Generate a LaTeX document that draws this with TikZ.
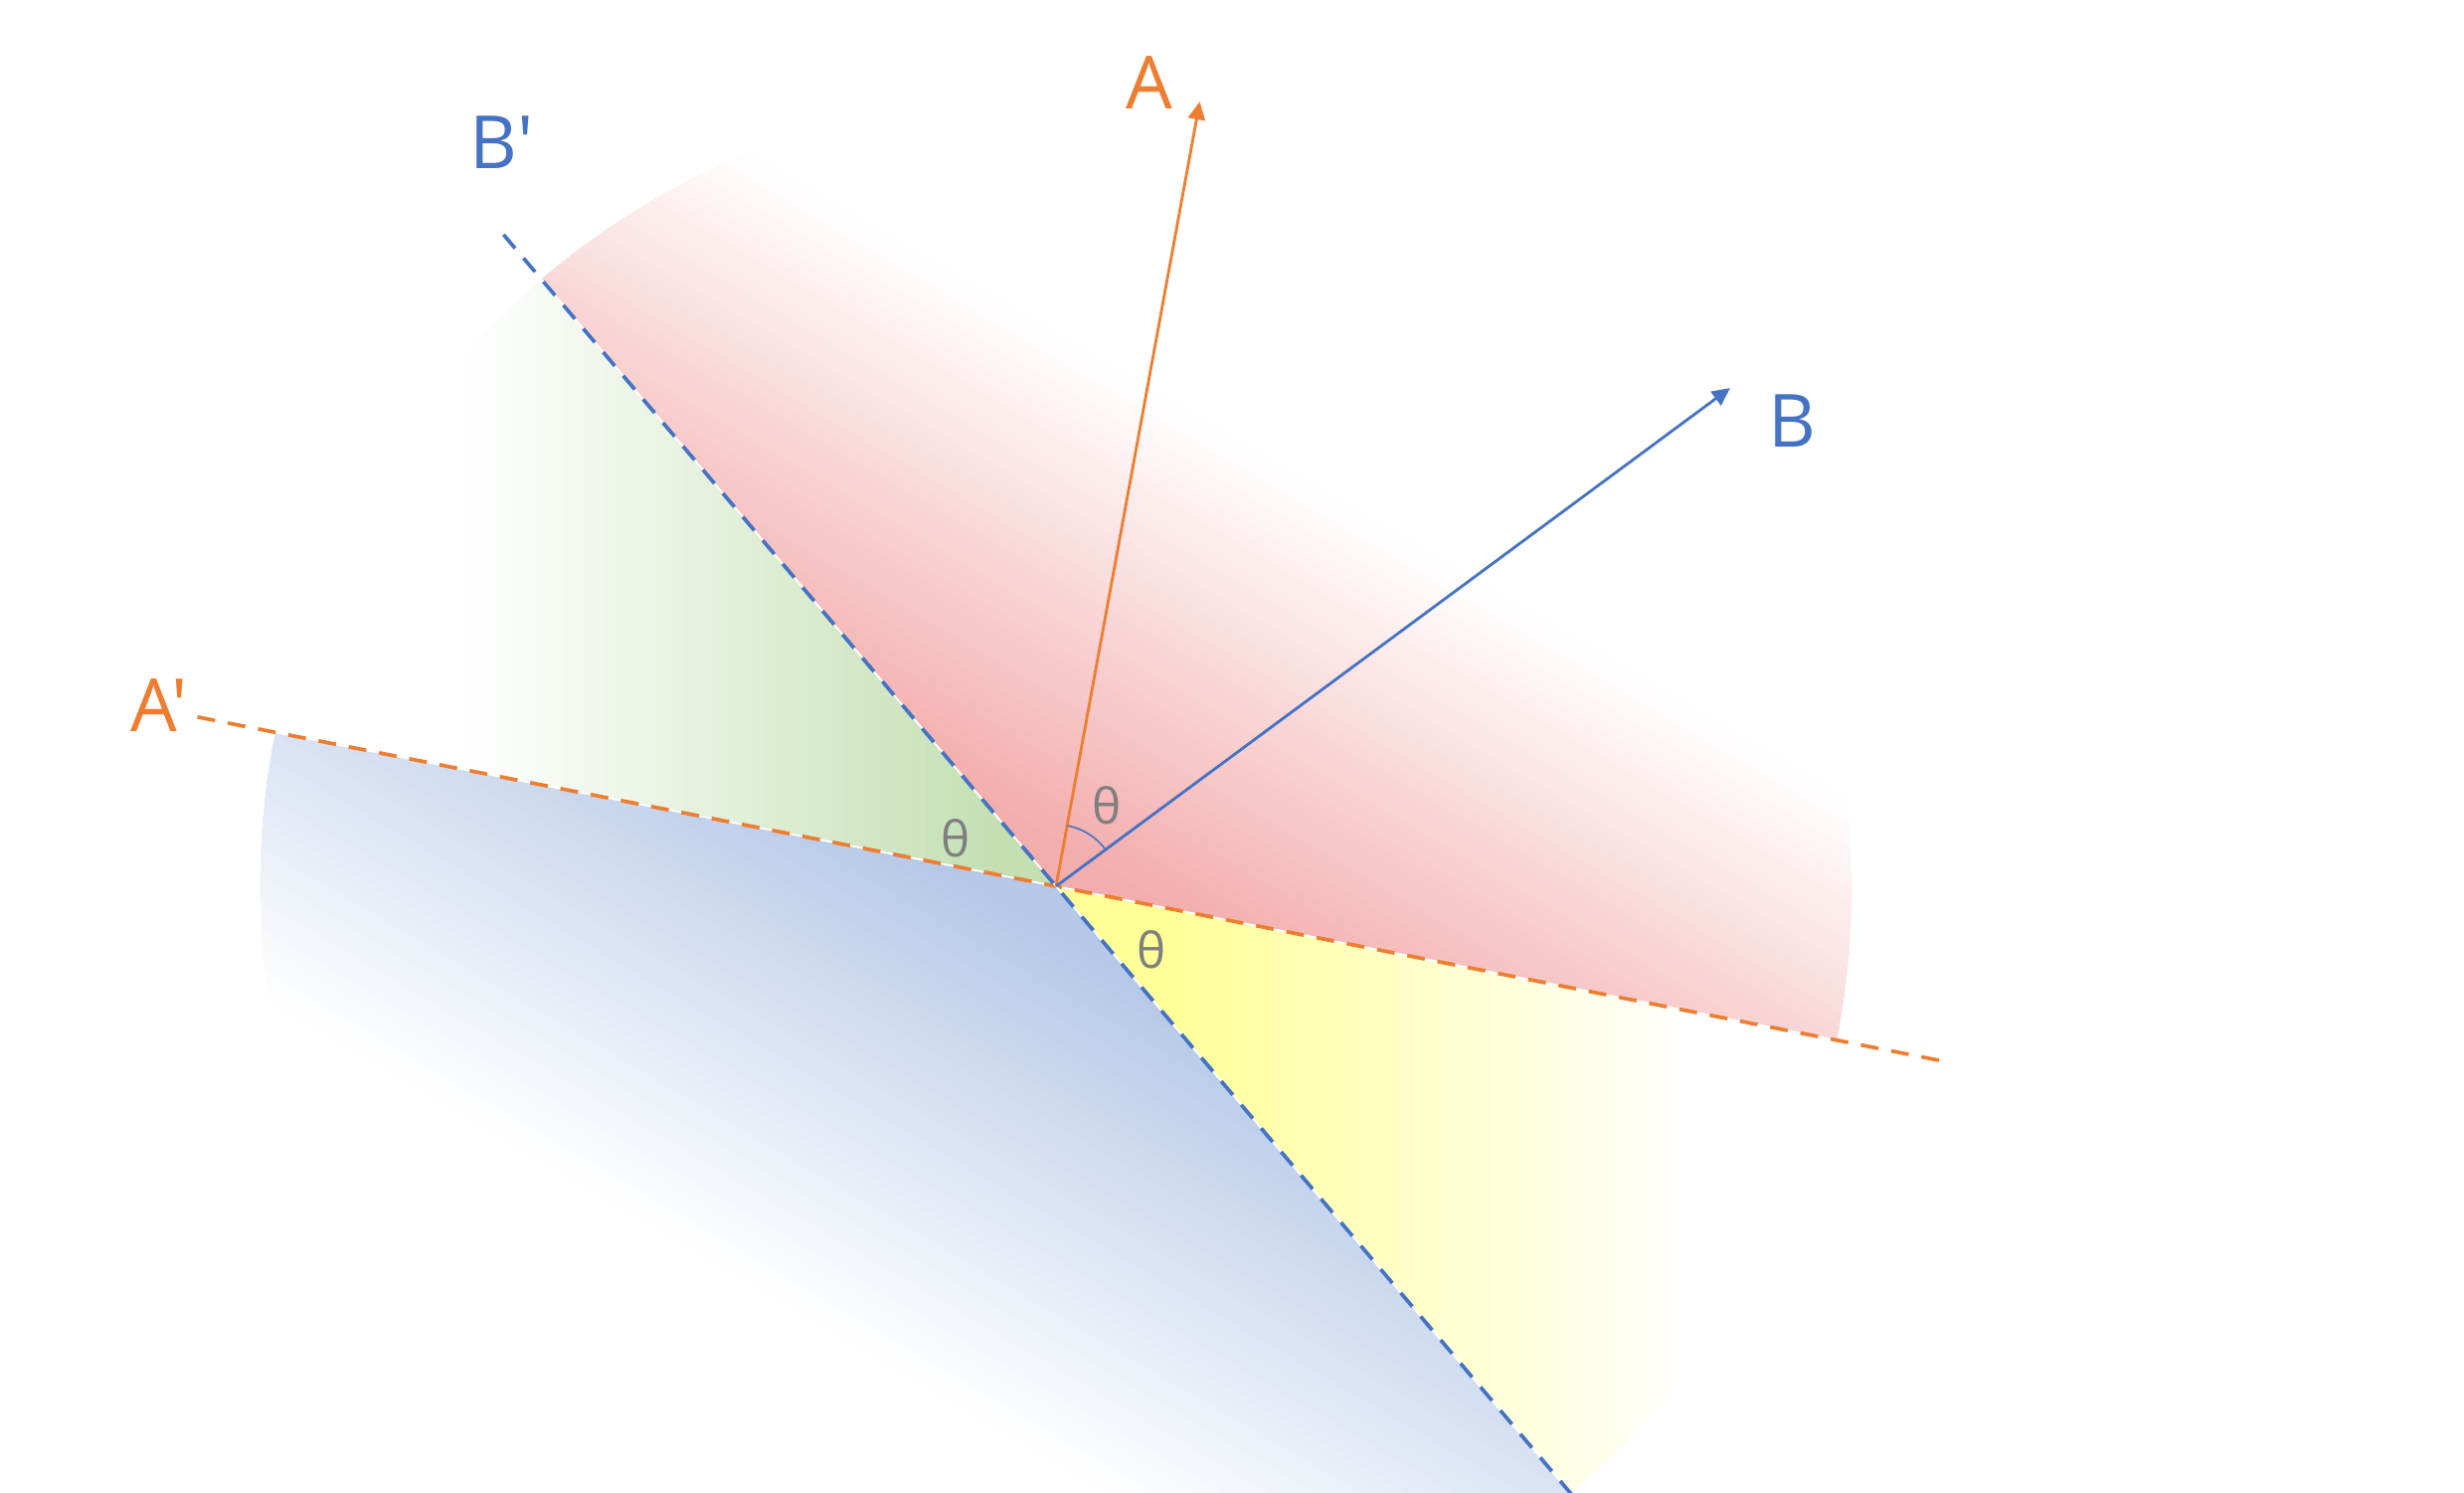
\documentclass[tikz,border=0pt]{standalone}
\usepackage{fontspec}
\setmainfont{Open Sans}
\newfontfamily\labelfont{Open Sans}
\usepackage{xcolor}
\usepackage{tikz}
\usetikzlibrary{arrows.meta}
\definecolor{redfill}{RGB}{243,172,172}
\definecolor{greenfill}{RGB}{195,223,177}
\definecolor{bluefill}{RGB}{180,199,231}
\definecolor{yellowfill}{RGB}{255,255,150}
\definecolor{orangeline}{RGB}{237,125,49}
\definecolor{blueline}{RGB}{68,114,196}
\definecolor{thetagray}{RGB}{127,127,127}
% sector from #1 to #2 in colour #3, fading to white along direction #4,
% full colour up to #5, white from #6 on
\newcommand{\fadesector}[6]{%
  \begin{scope}
    \clip (O) -- (#1:8) arc[start angle=#1, end angle=#2, radius=8] -- cycle;
    \foreach \fK in {40,39,...,1}{%
      \pgfmathsetmacro{\fTint}{100*(1-(\fK-0.5)/40)}%
      \fill[#3!\fTint!white, rotate=#4] (-1,-9) rectangle ({#5+(#6-#5)*\fK/40},9);%
    }%
  \end{scope}
}

\begin{document}
\begin{tikzpicture}[
    vec/.style={line width=0.8pt, -{Triangle[length=0.18cm,width=0.17cm]}},
    axis/.style={line width=1.05pt, dash pattern=on 0.18cm off 0.13cm,
      preaction={draw=white, solid, line width=0.5pt}},
    letter/.style={font=\labelfont\fontsize{21}{25}\selectfont, inner sep=0pt},
    thetalabel/.style={font=\labelfont\fontsize{14}{16}\selectfont, text=thetagray, inner sep=0pt}]
  \useasboundingbox (-10.62,-6.09) rectangle (14.16,8.91);
  \coordinate (O) at (0,0);
  % shaded sectors
  \fadesector{-11.15}{130.3}{redfill}{59.6}{0.3}{4.8}
  \fadesector{130.3}{168.85}{greenfill}{180}{0.5}{5.9}
  \fadesector{168.85}{310.3}{bluefill}{239.6}{0.3}{5.0}
  \fadesector{-49.7}{-11.15}{yellowfill}{0}{1.0}{6.4}
  % ends of the lines
  \coordinate (Atip) at (79.61:8.02);
  \coordinate (Btip) at (36.46:8.43);
  \coordinate (Apend) at (168.85:8.80);
  \coordinate (Aqend) at (-11.15:9.17);
  \coordinate (Bpend) at (130.3:8.59);
  \coordinate (Bqend) at (-49.7:8.10);
  % dashed lines
  \draw[axis, orangeline] (Apend) -- (O) -- (Aqend);
  \draw[axis, blueline] (Bpend) -- (O) -- (Bqend);
  % vectors
  \draw[vec, orangeline] (O) -- (Atip);
  \draw[vec, blueline] (O) -- (Btip);
  \draw[blueline, line width=0.45pt] (36.46:0.62) arc[start angle=36.46, end angle=79.61, radius=0.62];
  % labels
  \node[letter, text=orangeline] (labA) at (0.94,8.08) {A};
  \node[letter, text=blueline] (labB) at (7.40,4.68) {B};
  \node[letter, text=orangeline] (labAp) at (-9.02,1.82) {A'};
  \node[letter, text=blueline] (labBp) at (-5.57,7.48) {B'};
  \node[thetalabel] (thAB) at (0.51,0.81) {θ};
  \node[thetalabel] (thApBp) at (-1.01,0.48) {θ};
  \node[thetalabel] (thlow) at (0.96,-0.64) {θ};
\end{tikzpicture}
\end{document}
